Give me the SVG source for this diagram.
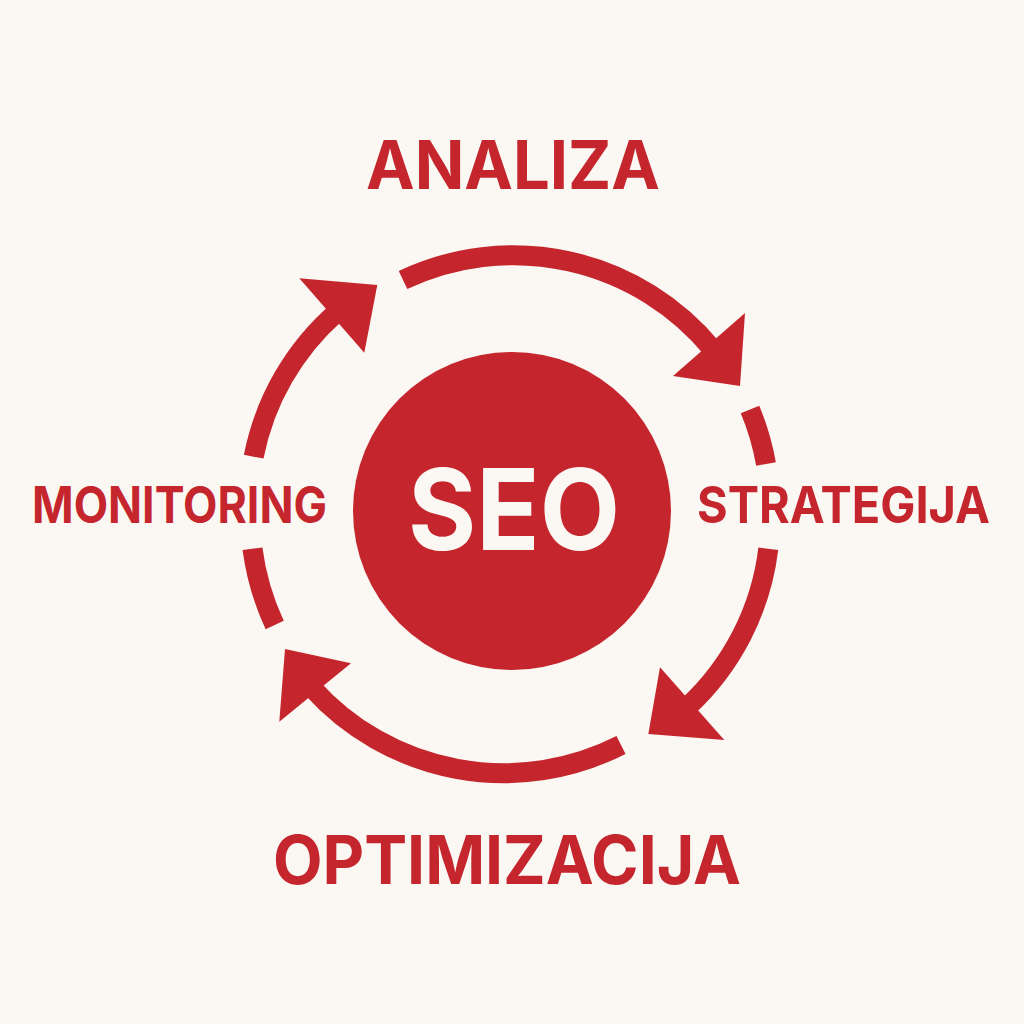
<svg xmlns="http://www.w3.org/2000/svg" width="1024" height="1024" viewBox="0 0 1024 1024">
  <style>
    .ring { fill: none; stroke: #C5262E; stroke-width: 20; stroke-linecap: butt; }
    .head { fill: #C5262E; }
    .lbl { font-family: Inter, "Liberation Sans", sans-serif; font-weight: 700; fill: #C5262E; }
    .core { font-family: Inter, "Liberation Sans", sans-serif; font-weight: 700; fill: #FBF7F3; }
  </style>
  <rect width="1024" height="1024" fill="#FBF8F4"/>

  <g id="connectors">
    <!-- top arc to Strategija -->
    <path class="ring" d="M403,280 A258,258 0 0 1 712.6,349.3"/>
    <polygon class="head" points="745,313 740,386 673,376"/>
    <!-- right upper dash -->
    <path class="ring" d="M750,409.5 A258,258 0 0 1 766,464"/>
    <!-- right lower arc to Optimizacija -->
    <path class="ring" d="M768.3,548.8 A258,258 0 0 1 687.3,707.1"/>
    <polygon class="head" points="660,667.3 648.3,734 724.3,740"/>
    <!-- bottom arc to Monitoring -->
    <path class="ring" d="M621,745 A258,258 0 0 1 311.8,687.6"/>
    <polygon class="head" points="351,663.3 285,649 279.3,721.7"/>
    <!-- left lower dash -->
    <path class="ring" d="M274.7,625 A258,258 0 0 1 252.5,548.8"/>
    <!-- left upper arc to Analiza -->
    <path class="ring" d="M253.7,456.7 A258,258 0 0 1 336.8,312.2"/>
    <polygon class="head" points="299.3,278.3 377.3,285 364.3,352.7"/>
  </g>

  <g id="seo">
    <circle cx="512" cy="511" r="159" fill="#C5262E"/>
    <text class="core" x="408" y="550" font-size="113" textLength="212" lengthAdjust="spacingAndGlyphs">SEO</text>
  </g>

  <g id="analiza">
    <text class="lbl" x="366" y="189" font-size="67" textLength="294" lengthAdjust="spacingAndGlyphs">ANALIZA</text>
  </g>

  <g id="strategija">
    <text class="lbl" x="697" y="523" font-size="51" textLength="293" lengthAdjust="spacingAndGlyphs">STRATEGIJA</text>
  </g>

  <g id="optimizacija">
    <text class="lbl" x="273" y="884" font-size="67" textLength="468" lengthAdjust="spacingAndGlyphs">OPTIMIZACIJA</text>
  </g>

  <g id="monitoring">
    <text class="lbl" x="32" y="523" font-size="51" textLength="295" lengthAdjust="spacingAndGlyphs">MONITORING</text>
  </g>
</svg>
